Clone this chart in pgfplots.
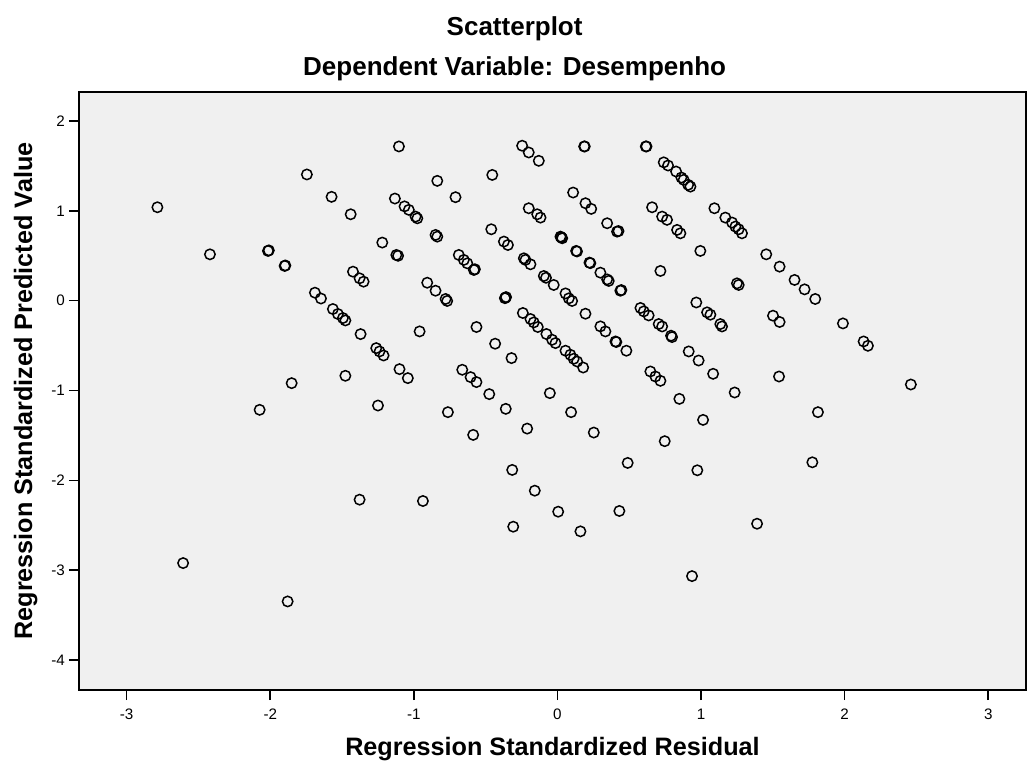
\documentclass[border=0pt]{standalone}
\usepackage{pgfplots}
\pgfplotsset{compat=1.18}
\usepackage{pgfplotstable}
\usepackage{fontspec}
\setmainfont{Liberation Sans}
\definecolor{bgc}{RGB}{240,240,240}
\pgfplotstableread{
x y
-2.786 1.040
-1.745 1.405
-1.573 1.156
-1.440 0.962
-1.104 1.717
-1.132 1.137
-1.065 1.050
-1.035 1.011
-0.988 0.936
-0.976 0.917
-2.420 0.516
-2.016 0.554
-2.010 0.560
-1.900 0.387
-1.895 0.392
-1.220 0.647
-1.122 0.509
-1.110 0.500
-1.424 0.323
-1.378 0.249
-1.350 0.212
-1.689 0.089
-1.647 0.024
-1.564 -0.093
-1.529 -0.148
-1.494 -0.193
-1.477 -0.220
-1.371 -0.372
-1.262 -0.528
-1.239 -0.565
-1.211 -0.610
-1.100 -0.762
-1.042 -0.862
-1.851 -0.918
-1.477 -0.836
-2.074 -1.215
-1.250 -1.167
-1.378 -2.215
-2.607 -2.921
-1.879 -3.348
-0.960 -0.342
-0.937 -2.230
-0.246 1.725
-0.200 1.650
-0.130 1.557
0.186 1.717
0.190 1.717
0.615 1.717
0.620 1.717
0.740 1.540
0.770 1.505
0.826 1.438
0.863 1.371
0.879 1.345
0.910 1.290
0.926 1.270
-0.837 1.334
-0.710 1.152
-0.454 1.400
-0.849 0.732
-0.837 0.713
-0.687 0.509
-0.652 0.454
-0.628 0.416
-0.582 0.342
-0.575 0.350
-0.907 0.200
-0.849 0.111
-0.779 0.019
-0.768 -0.003
-0.461 0.795
-0.373 0.658
-0.345 0.620
-0.234 0.472
-0.223 0.454
-0.188 0.405
-0.362 0.033
-0.358 0.040
-0.366 0.028
-0.095 0.275
-0.080 0.255
-0.026 0.175
0.056 0.081
0.079 0.026
0.102 -0.003
0.021 0.713
0.027 0.705
0.033 0.695
-0.200 1.029
-0.141 0.962
-0.118 0.925
0.130 0.554
0.136 0.548
0.223 0.424
0.229 0.418
0.299 0.312
0.346 0.237
0.357 0.220
0.438 0.111
0.445 0.118
0.109 1.204
0.195 1.085
0.235 1.022
0.346 0.862
0.415 0.769
0.425 0.775
0.659 1.040
0.729 0.936
0.763 0.900
0.833 0.788
0.856 0.750
0.995 0.554
0.717 0.331
1.093 1.029
1.169 0.925
1.216 0.870
1.239 0.825
1.262 0.795
1.285 0.750
1.454 0.516
1.547 0.379
1.651 0.231
1.721 0.126
1.795 0.019
1.250 0.193
1.262 0.175
0.967 -0.020
1.042 -0.130
1.065 -0.156
1.134 -0.260
1.146 -0.287
1.501 -0.167
1.547 -0.237
1.988 -0.253
2.132 -0.454
2.162 -0.502
0.914 -0.565
0.983 -0.666
1.084 -0.814
1.234 -1.022
1.543 -0.844
2.461 -0.933
1.814 -1.241
1.775 -1.799
1.390 -2.483
0.849 -1.093
1.014 -1.327
0.747 -1.564
0.489 -1.806
0.974 -1.888
0.937 -3.066
0.431 -2.341
0.160 -2.568
0.005 -2.349
-0.308 -2.516
-0.158 -2.115
-0.315 -1.884
-0.241 -0.137
-0.188 -0.204
-0.165 -0.242
-0.137 -0.293
-0.077 -0.371
-0.037 -0.435
-0.014 -0.472
0.056 -0.557
0.090 -0.602
0.113 -0.647
0.137 -0.677
0.179 -0.744
0.195 -0.145
0.299 -0.286
0.334 -0.342
0.404 -0.454
0.410 -0.460
0.480 -0.557
0.578 -0.081
0.601 -0.119
0.635 -0.164
0.705 -0.260
0.729 -0.287
0.791 -0.390
0.798 -0.405
0.647 -0.788
0.682 -0.844
0.717 -0.892
-0.564 -0.293
-0.434 -0.479
-0.320 -0.639
-0.663 -0.769
-0.605 -0.851
-0.564 -0.906
-0.475 -1.040
-0.360 -1.204
-0.211 -1.424
-0.053 -1.029
0.095 -1.241
0.253 -1.468
-0.763 -1.241
-0.587 -1.494
}\pts
\begin{document}
\begin{tikzpicture}
\useasboundingbox (-39.5pt,-36pt) rectangle (474pt,345pt);
\begin{axis}[
  at={(0,0)}, anchor=south west,
  scale only axis,
  width=473.5pt, height=299pt,
  xmin=-3.332, xmax=3.263,
  ymin=-4.334, ymax=2.323,
  xtick={-3,-2,-1,0,1,2,3},
  ytick={-4,-3,-2,-1,0,1,2},
  xtick pos=bottom, ytick pos=left,
  tick align=outside,
  major tick length=5pt,
  tick style={black, line width=0.8pt},
  axis line style={black, line width=1pt},
  axis background/.style={fill=bgc},
  /pgf/number format/assume math mode=true,
  tick label style={font=\fontsize{7.6}{9}\selectfont},
  xticklabel style={yshift=-1pt},
  yticklabel style={xshift=1.5pt},
  label style={font=\fontsize{12.6}{14}\selectfont\bfseries},
  xlabel={Regression Standardized Residual},
  ylabel={Regression Standardized Predicted Value},
  xlabel style={at={(axis description cs:0.5,-0.110)}, anchor=base},
  ylabel style={at={(axis description cs:-0.0496,0.5)}, anchor=base},
  clip=false,
]
\addplot[only marks, mark=o, mark size=2.6pt, mark options={line width=0.75pt, draw=black}] table[x=x,y=y] {\pts};
\node[anchor=base, font=\fontsize{13}{15}\selectfont\bfseries] at (axis description cs:0.46,1.0953) {Scatterplot};
\node[anchor=base, font=\fontsize{13}{15}\selectfont\bfseries] at (axis description cs:0.46,1.0284) {Dependent Variable: Desempenho};
\end{axis}
\end{tikzpicture}
\end{document}
